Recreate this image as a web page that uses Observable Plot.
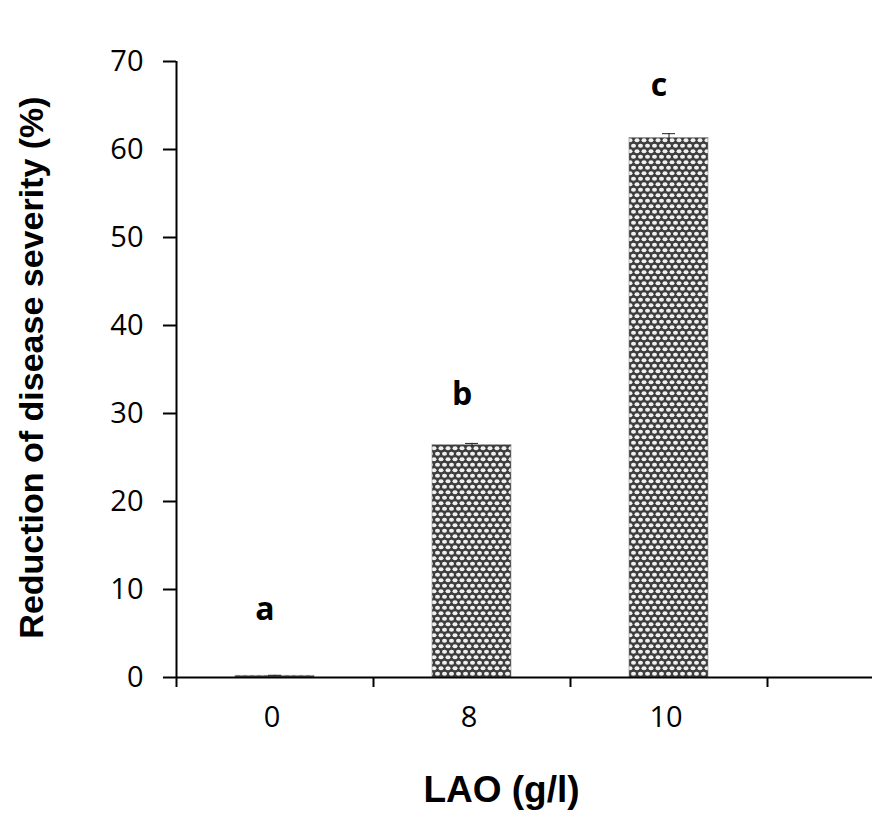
<!DOCTYPE html>
<html>
<head>
<meta charset="utf-8">
<script src="https://cdn.jsdelivr.net/npm/d3@7"></script>
<script src="https://cdn.jsdelivr.net/npm/@observablehq/plot@0.6"></script>
<style>
  html, body { margin: 0; padding: 0; background: #fff; }
</style>
</head>
<body>
<div id="chart"></div>
<script>
const categories = ["0", "8", "10"];
const xDomain = ["0", "8", "10", ""];
const values = [0.2, 26.4, 61.3];
const errors = [0.05, 0.2, 0.5];
const letters = ["a", "b", "c"];
const letterY = [7.4, 31.8, 66.9];
const yTicks = [0, 10, 20, 30, 40, 50, 60, 70];
const yLabel = "Reduction of disease severity (%)";
const xLabel = "LAO (g/l)";

const data = categories.map((c, i) => ({cat: c, v: values[i], e: errors[i], letter: letters[i], ly: letterY[i]}));

const tickFont = "'Open Sans', sans-serif";
const titleFont = "'Liberation Sans', Arial, sans-serif";

const svg = Plot.plot({
  width: 872,
  height: 821,
  marginLeft: 176,
  marginRight: -92,
  marginTop: 61,
  marginBottom: 144,
  style: {background: "#fff", color: "#000", fontFamily: tickFont, overflow: "visible"},
  x: {domain: xDomain, paddingInner: 0.6, paddingOuter: 0.3, axis: null},
  y: {domain: [0, 70], axis: null},
  marks: [
    Plot.barY(data, {x: "cat", y: "v", fill: "url(#hexpat)", stroke: "#8a8a8a", strokeWidth: 0.6}),
    Plot.ruleX(data, {x: "cat", y1: d => d.v - d.e, y2: d => d.v + d.e, stroke: "#222", strokeWidth: 1}),
    Plot.tickY(data, {x: "cat", y: d => d.v + d.e, stroke: "#222", strokeWidth: 1, inset: 33}),
    Plot.ruleY([0], {stroke: "#000", strokeWidth: 2}),
    Plot.ruleX([xDomain[0]], {dx: -98.5, y1: 0, y2: 70, stroke: "#000", strokeWidth: 2}),
    Plot.axisY({ticks: yTicks, tickSize: 13, tickPadding: 20, fontSize: 29, strokeWidth: 2, label: null}),
    Plot.axisX({tickSize: 10, tickFormat: () => "", dx: -98.5, strokeWidth: 2, label: null}),
    Plot.axisX({tickSize: 0, tickPadding: 29, fontSize: 29, label: null, dx: -3}),
    Plot.text(data, {x: "cat", y: "ly", text: "letter", dx: -10, dy: -3, fontSize: 32, fontWeight: "bold", fontFamily: tickFont, fill: "#000"}),
    Plot.text([yLabel], {frameAnchor: "left", textAnchor: "middle", dx: -144, dy: -2, rotate: -90, fontSize: 34, fontWeight: "bold", fontFamily: titleFont, fill: "#000"}),
    Plot.text([xLabel], {frameAnchor: "bottom", textAnchor: "middle", dx: -69, dy: 124, fontSize: 37, fontWeight: "bold", fontFamily: titleFont, fill: "#000"})
  ]
});

// hexagonal dot pattern for the bars
const ns = "http://www.w3.org/2000/svg";
const defs = document.createElementNS(ns, "defs");
defs.innerHTML = `
  <pattern id="hexpat" patternUnits="userSpaceOnUse" width="7" height="11">
    <rect width="7" height="11" fill="#3e3e3e"/>
    <ellipse cx="3.5" cy="2.75" rx="2.5" ry="1.9" fill="#f0f0f0"/>
    <ellipse cx="0" cy="8.25" rx="2.5" ry="1.9" fill="#f0f0f0"/>
    <ellipse cx="7" cy="8.25" rx="2.5" ry="1.9" fill="#f0f0f0"/>
  </pattern>`;
svg.insertBefore(defs, svg.firstChild);
svg.style.overflow = "hidden";
document.getElementById("chart").appendChild(svg);
</script>
</body>
</html>
